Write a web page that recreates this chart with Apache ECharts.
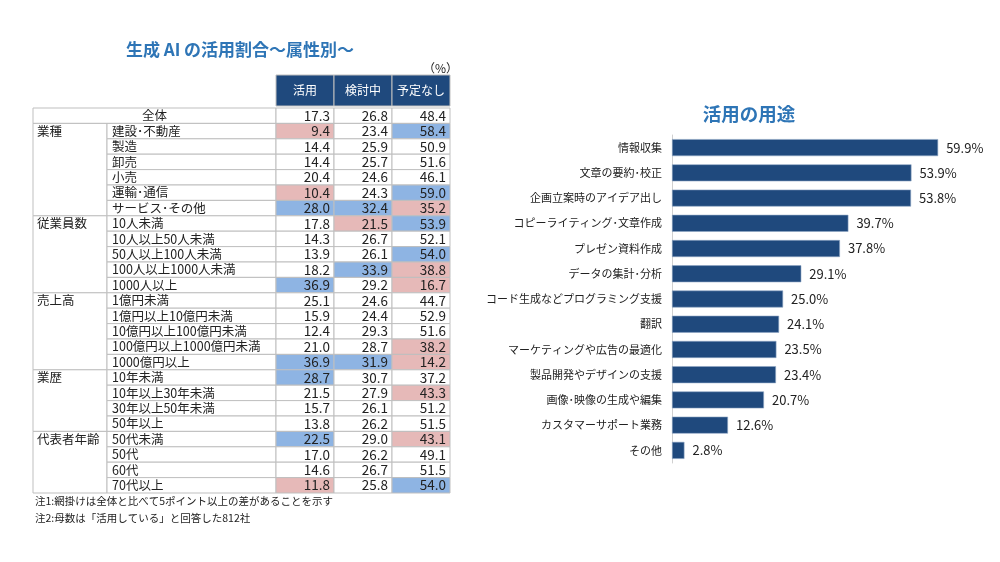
<!DOCTYPE html>
<html><head><meta charset="utf-8">
<script src="https://cdn.jsdelivr.net/npm/echarts@6/dist/echarts.min.js"></script>
<style>html,body{margin:0;padding:0;background:#fff}#c{width:1000px;height:562px}</style>
</head><body><div id="c"></div>
<script>
// ---- table data ----
const headers = ['活用', '検討中', '予定なし'];
const groupNames = ['全体', '業種', '従業員数', '売上高', '業歴', '代表者年齢'];
const groupSizes = [1, 6, 5, 5, 4, 4];
const rowLabels = ['全体', '建設･不動産', '製造', '卸売', '小売', '運輸･通信', 'サービス･その他',
  '10人未満', '10人以上50人未満', '50人以上100人未満', '100人以上1000人未満', '1000人以上',
  '1億円未満', '1億円以上10億円未満', '10億円以上100億円未満', '100億円以上1000億円未満', '1000億円以上',
  '10年未満', '10年以上30年未満', '30年以上50年未満', '50年以上',
  '50代未満', '50代', '60代', '70代以上'];
const katsuyo = [17.3, 9.4, 14.4, 14.4, 20.4, 10.4, 28.0, 17.8, 14.3, 13.9, 18.2, 36.9, 25.1, 15.9, 12.4, 21.0, 36.9, 28.7, 21.5, 15.7, 13.8, 22.5, 17.0, 14.6, 11.8];
const kentou = [26.8, 23.4, 25.9, 25.7, 24.6, 24.3, 32.4, 21.5, 26.7, 26.1, 33.9, 29.2, 24.6, 24.4, 29.3, 28.7, 31.9, 30.7, 27.9, 26.1, 26.2, 29.0, 26.2, 26.7, 25.8];
const yotei = [48.4, 58.4, 50.9, 51.6, 46.1, 59.0, 35.2, 53.9, 52.1, 54.0, 38.8, 16.7, 44.7, 52.9, 51.6, 38.2, 14.2, 37.2, 43.3, 51.2, 51.5, 43.1, 49.1, 51.5, 54.0];
// shading: 1 = higher (blue), -1 = lower (pink), 0 = none
const katsuyoShade = [0, -1, 0, 0, 0, -1, 1, 0, 0, 0, 0, 1, 0, 0, 0, 0, 1, 1, 0, 0, 0, 1, 0, 0, -1];
const kentouShade = [0, 0, 0, 0, 0, 0, 1, -1, 0, 0, 1, 0, 0, 0, 0, 0, 1, 0, 0, 0, 0, 0, 0, 0, 0];
const yoteiShade = [0, 1, 0, 0, 0, 1, -1, 1, 0, 1, -1, -1, 0, 0, 0, -1, -1, 0, -1, 0, 0, -1, 0, 0, 1];

// ---- bar chart data ----
const uses = ['情報収集', '文章の要約･校正', '企画立案時のアイデア出し', 'コピーライティング･文章作成', 'プレゼン資料作成',
  'データの集計･分析', 'コード生成などプログラミング支援', '翻訳', 'マーケティングや広告の最適化', '製品開発やデザインの支援',
  '画像･映像の生成や編集', 'カスタマーサポート業務', 'その他'];
const useValues = [59.9, 53.9, 53.8, 39.7, 37.8, 29.1, 25.0, 24.1, 23.5, 23.4, 20.7, 12.6, 2.8];

// ---- styling / layout constants ----
const FONT = '"Noto Sans CJK JP", "Noto Sans", sans-serif';
const BORDER = '#BFBFBF';
const NAVY = '#1F497D';
const BLUE_SHADE = '#8EB4E3';
const PINK_SHADE = '#E6B9B8';
const SUB_W = 169, GROUP_W = 74;

const valueCols = [katsuyo, kentou, yotei];
const shadeCols = [katsuyoShade, kentouShade, yoteiShade];
const cellData = [];
valueCols.forEach((col, c) => col.forEach((v, r) => cellData.push([c, r, v, shadeCols[c][r]])));

// row -> [groupIndex, firstOfGroup]
const rowInfo = [];
groupSizes.forEach((n, g) => { for (let i = 0; i < n; i++) rowInfo.push([g, i === 0]); });

const chart = echarts.init(document.getElementById('c'), null, { renderer: 'canvas' });

const option = {
  backgroundColor: '#fff',
  textStyle: { fontFamily: FONT },
  animation: false,
  title: [
    { text: '生成 AI の活用割合～属性別～', left: 235, top: 36, textAlign: 'center',
      textStyle: { fontSize: 17, fontWeight: 'bold', color: '#2E75B6', fontFamily: FONT } },
    { text: '活用の用途', left: 744, top: 100, textAlign: 'center',
      textStyle: { fontSize: 18.5, fontWeight: 'bold', color: '#2E75B6', fontFamily: FONT } }
  ],
  graphic: [
    { type: 'text', left: 423, top: 62, style: { text: '（%）', fill: '#222', font: '12px ' + FONT } },
    { type: 'text', left: 35, top: 496, style: { text: '注1:網掛けは全体と比べて5ポイント以上の差があることを示す', font: '10.5px ' + FONT, fill: '#222' } },
    { type: 'text', left: 35, top: 513, style: { text: '注2:母数は「活用している」と回答した812社', font: '10.5px ' + FONT, fill: '#222' } }
  ],
  grid: [
    { left: 276, top: 108, width: 174, height: 385 },
    { left: 672, top: 135, right: 17, height: 328 }
  ],
  xAxis: [
    { gridIndex: 0, type: 'category', data: headers, show: false },
    { gridIndex: 1, type: 'value', min: 0, max: 70, show: false }
  ],
  yAxis: [
    { gridIndex: 0, type: 'category', data: rowLabels, inverse: true, show: false },
    { gridIndex: 1, type: 'category', data: uses, inverse: true,
      axisLine: { show: true, lineStyle: { color: '#D0D0D0', width: 1 } },
      axisTick: { show: false },
      axisLabel: { color: '#222', fontSize: 11, margin: 10, fontFamily: FONT } }
  ],
  series: [
    // header cells
    { type: 'custom', xAxisIndex: 0, yAxisIndex: 0, silent: true,
      data: headers.map((h, i) => [i, 0]),
      renderItem: function (params, api) {
        const cs = params.coordSys;
        const i = api.value(0);
        const cx = api.coord([i, 0])[0];
        const w = api.size([1, 0])[0];
        return { type: 'group', children: [
          { type: 'rect', shape: { x: cx - w / 2, y: cs.y - 33, width: w, height: 31 },
            style: { fill: NAVY, stroke: BORDER, lineWidth: 1 } },
          { type: 'text', style: { x: cx, y: cs.y - 17.5, text: headers[i], textAlign: 'center', textVerticalAlign: 'middle',
            fill: '#fff', font: '12px ' + FONT } }
        ] };
      } },
    // row label cells
    { type: 'custom', xAxisIndex: 0, yAxisIndex: 0, silent: true,
      data: rowLabels.map((l, r) => [0, r]),
      renderItem: function (params, api) {
        const cs = params.coordSys;
        const r = api.value(1);
        const cy = api.coord([0, r])[1];
        const h = api.size([0, 1])[1];
        const top = cy - h / 2;
        const g = rowInfo[r][0], first = rowInfo[r][1];
        const children = [];
        if (g === 0) {
          children.push({ type: 'rect', shape: { x: cs.x - SUB_W - GROUP_W, y: top, width: SUB_W + GROUP_W, height: h },
            style: { fill: '#fff', stroke: BORDER, lineWidth: 1 } });
          children.push({ type: 'text', style: { x: cs.x - (SUB_W + GROUP_W) / 2, y: cy, text: rowLabels[r],
            textAlign: 'center', textVerticalAlign: 'middle', fill: '#222', font: '12.5px ' + FONT } });
        } else {
          if (first) {
            children.push({ type: 'rect', shape: { x: cs.x - SUB_W - GROUP_W, y: top, width: GROUP_W, height: h * groupSizes[g] },
              style: { fill: '#fff', stroke: BORDER, lineWidth: 1 } });
            children.push({ type: 'text', style: { x: cs.x - SUB_W - GROUP_W + 4, y: cy, text: groupNames[g],
              textAlign: 'left', textVerticalAlign: 'middle', fill: '#222', font: '12.5px ' + FONT } });
          }
          children.push({ type: 'rect', shape: { x: cs.x - SUB_W, y: top, width: SUB_W, height: h },
            style: { fill: '#fff', stroke: BORDER, lineWidth: 1 } });
          children.push({ type: 'text', style: { x: cs.x - SUB_W + 5, y: cy, text: rowLabels[r],
            textAlign: 'left', textVerticalAlign: 'middle', fill: '#222', font: '12.5px ' + FONT } });
        }
        return { type: 'group', children: children };
      } },
    // value cells
    { type: 'custom', xAxisIndex: 0, yAxisIndex: 0, silent: true,
      data: cellData,
      renderItem: function (params, api) {
        const c = api.coord([api.value(0), api.value(1)]);
        const s = api.size([1, 1]);
        const shade = api.value(3);
        const fill = shade > 0 ? BLUE_SHADE : (shade < 0 ? PINK_SHADE : '#fff');
        return { type: 'group', children: [
          { type: 'rect', shape: { x: c[0] - s[0] / 2, y: c[1] - s[1] / 2, width: s[0], height: s[1] },
            style: { fill: fill, stroke: BORDER, lineWidth: 1 } },
          { type: 'text', style: { x: c[0] + s[0] / 2 - 4, y: c[1], text: api.value(2).toFixed(1),
            textAlign: 'right', textVerticalAlign: 'middle', fill: '#222', font: '13.5px ' + FONT } }
        ] };
      } },
    // bar chart
    { type: 'bar', xAxisIndex: 1, yAxisIndex: 1, data: useValues, barWidth: 17,
      itemStyle: { color: NAVY, borderColor: '#8FA6C4', borderWidth: 0.6 },
      label: { show: true, position: 'right', distance: 8, color: '#222', fontSize: 13, fontFamily: FONT,
        formatter: p => p.value.toFixed(1) + '%' } }
  ]
};
chart.setOption(option);
</script></body></html>
